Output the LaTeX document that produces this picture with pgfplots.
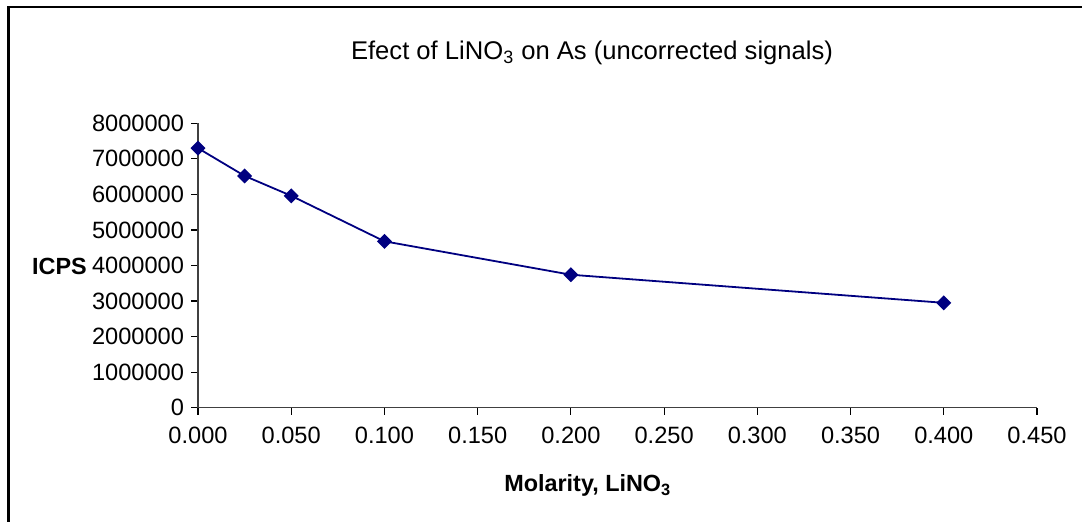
\documentclass[border=0pt]{standalone}
\usepackage{pgfplots}
\pgfplotsset{compat=1.18}
\usepackage{fontspec}
\setmainfont{Liberation Sans}
\definecolor{navyline}{RGB}{0,0,128}
\begin{document}
\begin{tikzpicture}
\useasboundingbox (0,0) rectangle (541pt,261pt);
\draw[line width=1.3pt,black] (4.25pt,-5pt) -- (4.25pt,257.5pt) -- (560pt,257.5pt);
\begin{axis}[
  at={(99pt,57.15pt)}, anchor=south west,
  width=419.5pt, height=142.2pt, scale only axis,
  xmin=0, xmax=0.45, ymin=0, ymax=8000000,
  axis x line*=bottom, axis y line*=left,
  axis line style={-, draw=black!75, line width=0.6pt},
  xtick={0,0.05,...,0.451},
  ytick={0,1000000,...,8000000},
  tick align=outside, major tick length=3.5pt,
  tick style={black, line width=0.6pt},
  scaled x ticks=false, scaled y ticks=false,
  /pgf/number format/assume math mode=true,
  xticklabel style={yshift=-2.8pt, /pgf/number format/.cd, fixed, fixed zerofill, precision=3},
  yticklabel style={/pgf/number format/.cd, fixed, precision=0, 1000 sep={}},
  ticklabel style={font=\fontsize{11.8}{13}\selectfont},
  clip=false,
]
\addplot[color=navyline, line width=0.9pt, mark=square*, mark size=2.2pt,
  mark options={rotate=45, fill=navyline, draw=navyline}]
  coordinates {
    (0.000, 7300000)
    (0.025, 6520000)
    (0.050, 5960000)
    (0.100, 4680000)
    (0.200, 3740000)
    (0.400, 2950000)
  };
\end{axis}
\node[anchor=base, inner sep=0pt, font=\fontsize{12.8}{15}\selectfont] at (296pt,231.35pt)
  {Efect of LiNO\textsubscript{3} on As (uncorrected signals)};
\node[anchor=base, inner sep=0pt, font=\bfseries\fontsize{11.7}{14}\selectfont] at (293.9pt,15pt)
  {Molarity, LiNO\textsubscript{3}};
\node[anchor=base, inner sep=0pt, font=\bfseries\fontsize{11.7}{14}\selectfont] at (29.75pt,123.5pt)
  {ICPS};
\end{tikzpicture}
\end{document}
